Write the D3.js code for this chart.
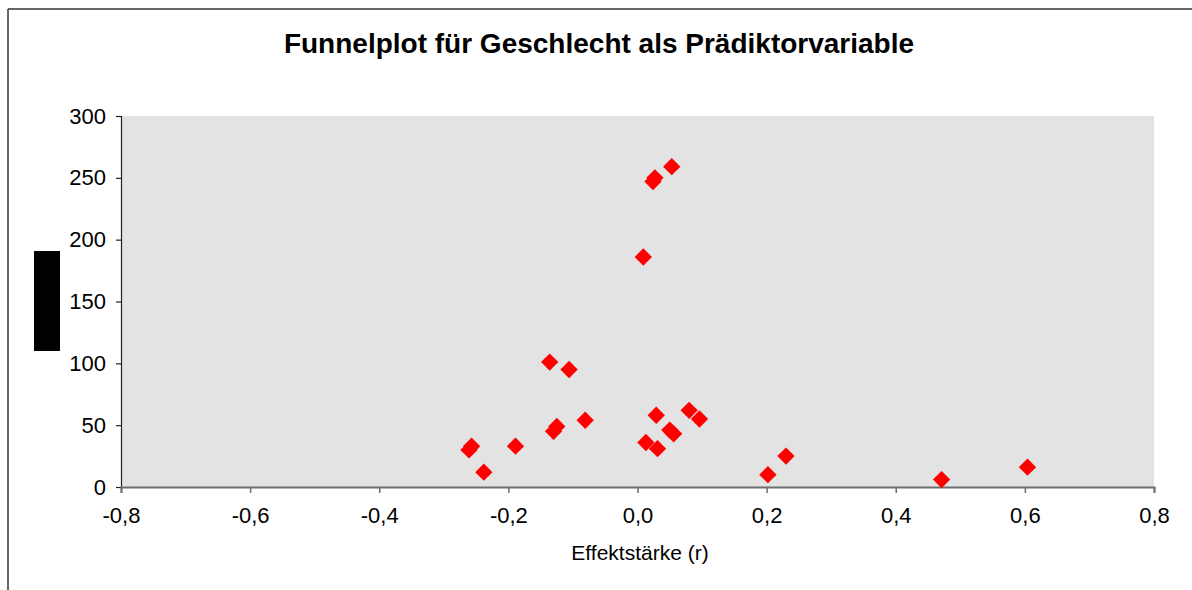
<!DOCTYPE html>
<html><head><meta charset="utf-8">
<script src="https://cdn.jsdelivr.net/npm/d3@7"></script>
<style>body{margin:0;background:#fff;} svg{display:block;}</style>
</head><body>
<svg id="c" width="1192" height="590"></svg>
<script>
const titleText = "Funnelplot für Geschlecht als Prädiktorvariable";
const xLabel = "Effektstärke (r)";
const xTicks = [-0.8, -0.6, -0.4, -0.2, 0.0, 0.2, 0.4, 0.6, 0.8];
const yTicks = [0, 50, 100, 150, 200, 250, 300];
// effect size r and sample size N
const effect = [0.053, 0.027, 0.024, 0.009, -0.136, -0.106, 0.029, 0.080, 0.096, 0.050, 0.056,
  -0.081, -0.125, -0.130, 0.013, 0.031, -0.257, -0.261, -0.189, -0.238, 0.202, 0.230, 0.471, 0.604];
const sampleN = [259, 250, 247, 186, 101, 95, 58, 62, 55, 46, 43,
  54, 49, 45, 36, 31, 33, 30, 33, 12, 10, 25, 6, 16];

const svg = d3.select("#c");
const W = 1192, H = 590;
const m = {left: 121, right: 1154, top: 116, bottom: 487};
const FONT = "Liberation Sans, Arial, sans-serif";

// outer frame
svg.append("line").attr("x1", 8).attr("x2", W + 5).attr("y1", 9).attr("y2", 9)
  .attr("stroke", "#333").attr("stroke-width", 1.5);
svg.append("line").attr("x1", 8).attr("x2", 8).attr("y1", 9).attr("y2", H + 5)
  .attr("stroke", "#333").attr("stroke-width", 1.5);

const x = d3.scaleLinear().domain([-0.8, 0.8]).range([m.left, m.right]);
const y = d3.scaleLinear().domain([0, 300]).range([m.bottom, m.top]);

svg.append("rect").attr("x", m.left).attr("y", m.top)
  .attr("width", m.right - m.left).attr("height", m.bottom - m.top)
  .attr("fill", "#e3e3e3");

const fmt = v => d3.format(".1f")(v).replace(".", ",").replace("−", "-");

const ya = svg.append("g").attr("transform", `translate(${m.left},0)`)
  .call(d3.axisLeft(y).tickValues(yTicks).tickSize(5).tickPadding(10).tickFormat(d3.format("d")));
ya.select(".domain").attr("stroke", "#222").attr("stroke-width", 1.2);
ya.selectAll(".tick line").attr("stroke", "#222").attr("stroke-width", 1.2);
ya.selectAll("text").attr("font-family", FONT).attr("font-size", 22).attr("fill", "#000");

const xa = svg.append("g").attr("transform", `translate(0,${m.bottom})`)
  .call(d3.axisBottom(x).tickValues(xTicks).tickSize(6).tickPadding(14).tickFormat(fmt));
xa.select(".domain").attr("stroke", "#6e6e6e").attr("stroke-width", 2);
xa.selectAll(".tick line").attr("stroke", "#6e6e6e").attr("stroke-width", 1.5);
xa.selectAll("text").attr("font-family", FONT).attr("font-size", 22).attr("fill", "#000");

// markers
const sym = d3.symbol().type(d3.symbolSquare).size(150);
svg.append("g").selectAll("path").data(effect.map((e, i) => [e, sampleN[i]]))
  .join("path")
  .attr("d", sym)
  .attr("transform", d => `translate(${x(d[0])},${y(d[1])}) rotate(45)`)
  .attr("fill", "#ff0000");

// title
svg.append("text").attr("x", 599).attr("y", 53).attr("text-anchor", "middle")
  .attr("font-family", FONT).attr("font-weight", "bold")
  .attr("font-size", 28).attr("fill", "#000").text(titleText);

// x label
svg.append("text").attr("x", 640).attr("y", 560).attr("text-anchor", "middle")
  .attr("font-family", FONT).attr("font-size", 21).attr("fill", "#000").text(xLabel);

// black box (redacted y label)
svg.append("rect").attr("x", 34).attr("y", 251).attr("width", 26).attr("height", 100).attr("fill", "#000");
</script>
</body></html>
